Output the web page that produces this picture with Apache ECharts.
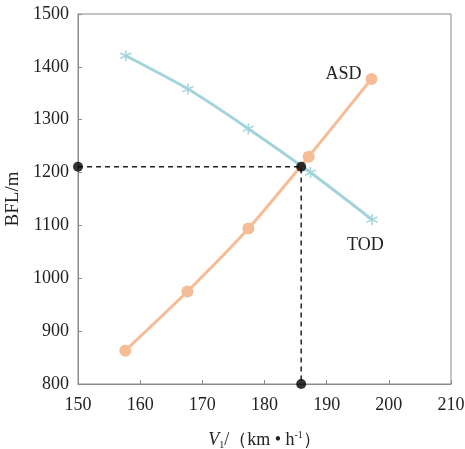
<!DOCTYPE html>
<html>
<head>
<meta charset="utf-8">
<script src="https://cdn.jsdelivr.net/npm/echarts@6/dist/echarts.min.js"></script>
<style>
  html, body { margin: 0; padding: 0; background: #fff; }
  #chart { width: 465px; height: 449px; }
</style>
</head>
<body>
<div id="chart"></div>
<script>
// V1 (km/h) and BFL (m)
const todV = [157.7, 167.7, 177.4, 187.4, 197.3];
const todBFL = [1421, 1358, 1283, 1200, 1111];
const asdV = [157.6, 167.6, 177.4, 187.1, 197.2];
const asdBFL = [863, 975, 1094, 1230, 1377];
// balanced field point and its projections
const balanceV = 185.9;
const balanceBFL = 1211;
const xMin = 150, xMax = 210, xStep = 10;
const yMin = 800, yMax = 1500, yStep = 100;

const font = '"Liberation Serif", "Times New Roman", serif';
const blue = '#a3d3db';
const orange = '#f6bc95';
const axisGray = '#8a8a8a';
const ink = '#222';

const pair = (xs, ys) => xs.map((x, i) => [x, ys[i]]);
const star = 'path://M5 0L5 10M0.7 2.5L9.3 7.5M0.7 7.5L9.3 2.5';

const chart = echarts.init(document.getElementById('chart'));
chart.setOption({
  animation: false,
  backgroundColor: '#fff',
  textStyle: { fontFamily: font },
  grid: {
    left: 78, right: 14, top: 14, bottom: 65,
    containLabel: false,
    outerBoundsMode: 'none',
    show: true, borderColor: axisGray, borderWidth: 1
  },
  xAxis: {
    type: 'value',
    min: xMin, max: xMax, interval: xStep,
    name: '{i|V}{sub|1}{n|/（km • h}{sup|-1}{n|）}',
    nameLocation: 'middle',
    nameGap: 46,
    nameTextStyle: {
      rich: {
        i: { fontFamily: font, fontSize: 18, fontStyle: 'italic', color: ink },
        sub: { fontFamily: font, fontSize: 10, color: ink, verticalAlign: 'bottom', padding: [10, 0, 0, 0] },
        sup: { fontFamily: font, fontSize: 10, color: ink, verticalAlign: 'top', padding: [0, 0, 8, 0] },
        n: { fontFamily: font, fontSize: 18, color: ink }
      }
    },
    axisLine: { lineStyle: { color: axisGray } },
    axisTick: { inside: true, length: 4, lineStyle: { color: axisGray } },
    axisLabel: { fontFamily: font, fontSize: 18, color: ink, margin: 12, formatter: v => String(v) },
    splitLine: { show: false }
  },
  yAxis: {
    type: 'value',
    min: yMin, max: yMax, interval: yStep,
    name: 'BFL/m',
    nameLocation: 'middle',
    nameGap: 55,
    nameTextStyle: { fontFamily: font, fontSize: 19, color: ink },
    axisLine: { show: true, lineStyle: { color: axisGray } },
    axisTick: { show: true, inside: true, length: 4, lineStyle: { color: axisGray } },
    axisLabel: { fontFamily: font, fontSize: 18, color: ink, margin: 9, formatter: v => String(v) },
    splitLine: { show: false }
  },
  series: [
    {
      type: 'line',
      name: 'TOD',
      data: pair(todV, todBFL),
      smooth: 0.2,
      symbol: star,
      symbolSize: 11,
      lineStyle: { color: blue, width: 3 },
      itemStyle: { color: blue, borderColor: blue, borderWidth: 1.5 },
      endLabel: {
        show: true, formatter: 'TOD', fontFamily: font, fontSize: 18, color: ink,
        offset: [-33, 26]
      },
      z: 2
    },
    {
      type: 'line',
      name: 'ASD',
      data: pair(asdV, asdBFL),
      smooth: 0.2,
      symbol: 'circle',
      symbolSize: 12,
      lineStyle: { color: orange, width: 3 },
      itemStyle: { color: orange },
      endLabel: {
        show: true, formatter: 'ASD', fontFamily: font, fontSize: 18, color: ink,
        offset: [-54, -5]
      },
      z: 3
    },
    {
      type: 'line',
      data: [[xMin, balanceBFL], [balanceV, balanceBFL], [balanceV, yMin]],
      symbol: 'none',
      lineStyle: { color: ink, width: 1.5, type: [5, 4] },
      z: 4
    },
    {
      type: 'scatter',
      data: [[xMin, balanceBFL], [balanceV, balanceBFL], [balanceV, yMin]],
      symbol: 'circle',
      symbolSize: 10,
      itemStyle: { color: '#000' },
      z: 5
    }
  ]
});
</script>
</body>
</html>
